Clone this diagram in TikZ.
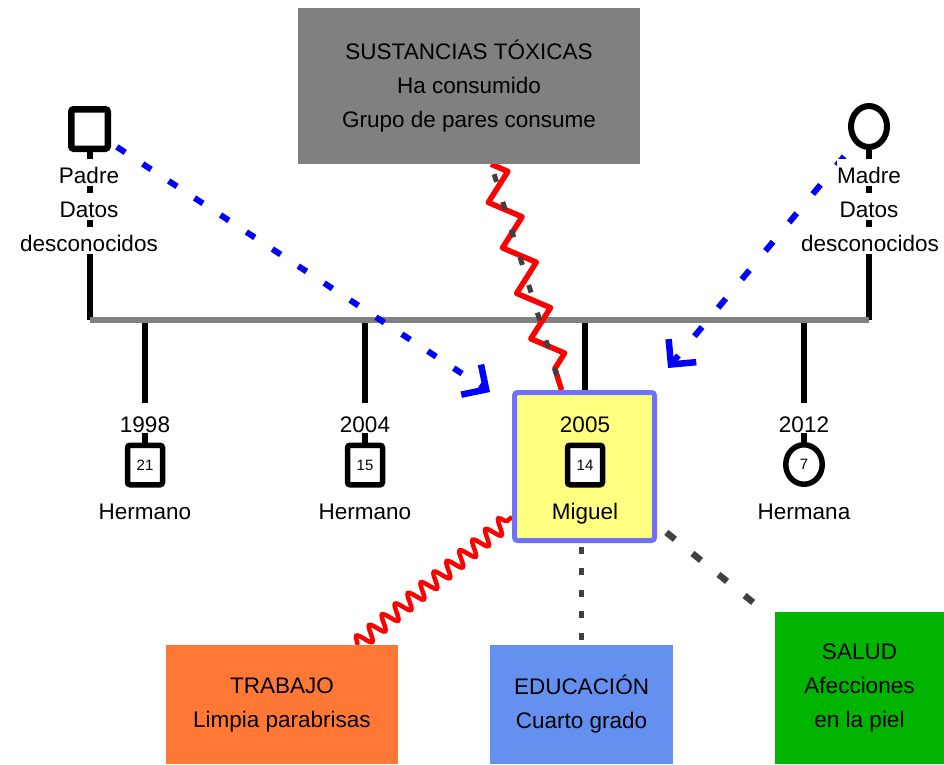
\documentclass[tikz,border=0pt]{standalone}
\usepackage{fontspec}
\setmainfont{Liberation Sans}
\usetikzlibrary{calc,arrows.meta,decorations.pathmorphing,shapes.geometric}
\definecolor{boxgray}{RGB}{128,128,128}
\definecolor{dkgray}{RGB}{64,64,64}
\definecolor{mframe}{RGB}{112,112,255}
\definecolor{myellow}{RGB}{255,255,128}
\definecolor{orangebox}{RGB}{255,120,53}
\definecolor{bluebox}{RGB}{100,145,240}
\definecolor{greenbox}{RGB}{0,180,0}
\definecolor{pureblue}{RGB}{0,0,255}
\definecolor{purered}{RGB}{255,0,0}
\pgfdeclarelayer{bg}
\pgfsetlayers{bg,main}
\begin{document}
\begin{tikzpicture}[x=1pt,y=-1pt,
  every node/.style={font=\fontsize{22.5pt}{34pt}\selectfont},
  stemline/.style={line width=6pt, black},
  sibline/.style={line width=6pt, boxgray},
  infobox/.style={inner sep=0pt, align=center, text=black},
  numfont/.style={font=\fontsize{15pt}{17pt}\selectfont},
  malesym/.style={draw=black, fill=white, rectangle, rounded corners=2.5pt, line width=5.5pt, minimum width=35pt, minimum height=39.5pt, inner sep=0pt, numfont},
  femsym/.style={draw=black, fill=white, ellipse, line width=5.5pt, minimum width=36.5pt, minimum height=39.5pt, inner sep=0pt, numfont},
  parlbl/.style={fill=white, inner sep=0pt, anchor=base, text height=24pt, text depth=3pt},
  yearlbl/.style={fill=white, inner sep=0pt, anchor=base, text height=29pt, text depth=1pt},
  namelbl/.style={inner sep=0pt, anchor=base},
  mboxstyle/.style={draw=mframe, fill=myellow, line width=5pt, rounded corners=3pt, minimum width=140pt, minimum height=148pt, inner sep=0pt},
  bluedash/.style={pureblue, line width=6pt, -{Straight Barb[length=18pt, width=36pt, line width=6.5pt, sharp]}},
  dkdash/.style={dkgray},
]
\useasboundingbox (0,0) rectangle (944,764);

% parents
\node[malesym, line width=6.5pt, minimum width=36.5pt, minimum height=39.5pt] (fa) at (89.5,129) {};
\node[femsym, line width=6pt, minimum width=36pt, minimum height=41pt] (mo) at (869,126.5) {};
\node[parlbl] (pa1) at (89,183) {Padre};
\node[parlbl] (pa2) at (89,217) {Datos};
\node[parlbl] (pa3) at (89,251) {desconocidos};
\node[parlbl] (ma1) at (869,183) {Madre};
\node[parlbl] (ma2) at (869,217) {Datos};
\node[parlbl] (ma3) at (870,251) {desconocidos};

% Miguel box
\node[mboxstyle] (mbox) at (584.5,466.5) {};

% children
\node[malesym] (h1) at (145,465) {21};
\node[malesym] (h2) at (365,465) {15};
\node[malesym] (h3) at (585,465) {14};
\node[femsym] (h4) at (804,464.5) {7};
\node[yearlbl] (y1) at (145,432) {1998};
\node[yearlbl] (y2) at (365,432) {2004};
\node[yearlbl, fill=none] (y3) at (585,432) {2005};
\node[yearlbl] (y4) at (804,432) {2012};
\node[namelbl] (n1) at (145,519) {Hermano};
\node[namelbl] (n2) at (365,519) {Hermano};
\node[namelbl] (n3) at (585,519) {Miguel};
\node[namelbl] (n4) at (804,519) {Hermana};

% info boxes
\node[infobox, fill=boxgray, minimum width=342pt, minimum height=156pt] (tox) at (469,86)
  {SUSTANCIAS TÓXICAS\\Ha consumido\\Grupo de pares consume};
\node[infobox, fill=orangebox, minimum width=232pt, minimum height=119pt] (trab) at (282,704.5)
  {TRABAJO\\Limpia parabrisas};
\node[infobox, fill=bluebox, minimum width=183pt, minimum height=119pt] (edu) at (581.5,704.5)
  {EDUCACIÓN\\Cuarto grado};
\node[infobox, fill=greenbox, minimum width=169pt, minimum height=152pt] (salud) at (859.5,688)
  {SALUD\\Afecciones\\en la piel};

\coordinate (hl) at (89,320);
\coordinate (ftip) at (490,392);
\coordinate (mtip) at (668,368);
\coordinate (zA) at ([xshift=22pt]tox.south);
\coordinate (zB) at ([xshift=-23pt]mbox.north);
\coordinate (sA) at ([xshift=75pt]trab.north);
\coordinate (sB) at ([yshift=-50.5pt]mbox.west);

\begin{pgfonlayer}{bg}
  % stems
  \draw[stemline] (fa.south) -- (fa.south |- hl);
  \draw[stemline] (mo.south) -- (mo.south |- hl);
  \draw[stemline] (h1.north |- hl) -- (h1.north);
  \draw[stemline] (h2.north |- hl) -- (h2.north);
  \draw[stemline] (mbox.north |- hl) -- (mbox.north);
  \draw[stemline] (h4.north |- hl) -- (h4.north);
  \draw[sibline] (fa.south |- hl) -- (mo.south |- hl);
  % relations
  \draw[bluedash, dash pattern=on 10pt off 21pt, dash phase=24pt] (fa) -- (ftip);
  \draw[bluedash, dash pattern=on 12pt off 25pt, dash phase=20.5pt] (mo) -- (mtip);
  \draw[purered, line width=5.5pt, line join=round, decorate,
        decoration={zigzag, segment length=47.6pt, amplitude=14pt}] (zA) -- (zB);
  \draw[dkdash, line width=5pt, dash pattern=on 8pt off 21pt, dash phase=18.5pt] (zA) -- (zB);
  \draw[purered, line width=4.5pt, decorate,
        decoration={snake, segment length=16.75pt, amplitude=7.5pt}] (sA) -- (sB);
  \draw[dkdash, line width=4.3pt, dash pattern=on 7pt off 14.5pt, dash phase=17.8pt]
        (mbox.south -| edu.north) -- (edu.north);
  \draw[dkdash, line width=6.5pt, dash pattern=on 11pt off 22.5pt, dash phase=21.5pt, shorten >=10pt]
        (mbox) -- (salud);
\end{pgfonlayer}
\end{tikzpicture}
\end{document}
